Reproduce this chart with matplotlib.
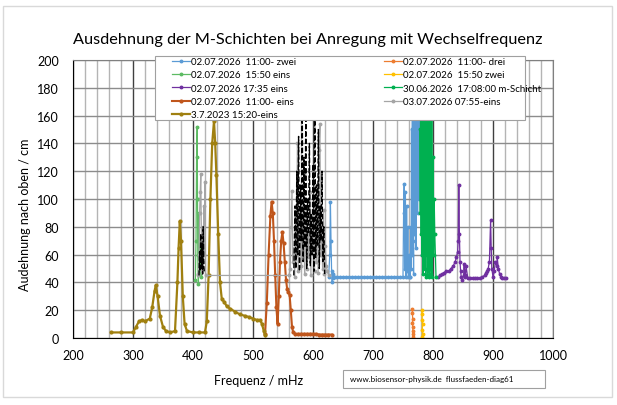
import numpy as np
import matplotlib
matplotlib.use("Agg")
import matplotlib.pyplot as plt
from matplotlib.ticker import MultipleLocator
from matplotlib.patches import Rectangle

plt.rcParams['font.family'] = ['Lato', 'DejaVu Sans']

# --- data (frequency in mHz, height in cm) ---
olive_f = [264, 280, 300, 305, 310, 315, 320, 328, 332, 336, 338, 341, 345, 350, 355, 362, 370, 374, 376, 378,
           380, 383, 386, 390, 400, 410, 420, 423, 426, 429, 432, 435, 437, 439, 442, 445, 448, 452, 456, 462,
           470, 478, 486, 494, 500, 506, 512, 515, 518, 520]
olive_v = [4, 4, 4, 8, 12, 13, 12, 14, 22, 34, 38, 30, 16, 8, 5, 4, 5, 40, 65, 84,
           70, 30, 10, 5, 4, 4, 4, 12, 45, 100, 140, 156, 140, 117, 75, 40, 28, 26, 23, 21,
           19, 17, 16, 15, 14, 13, 13, 10, 5, 2]

brown_f = [520, 523, 526, 529, 531, 533, 535, 537, 539, 541, 543, 545, 547, 549, 551, 553, 555, 557, 559, 561,
           563, 565, 567, 570, 575, 580, 585, 590, 595, 600, 605, 610, 615, 620, 625, 631]
brown_v = [3, 25, 60, 88, 98, 90, 70, 45, 22, 10, 30, 55, 70, 76, 68, 55, 42, 35, 33, 31,
           20, 8, 4, 3, 3, 3, 3, 3, 3, 3, 3, 2.5, 2.5, 2.5, 2.5, 2.5]

lgreen_f = [404, 405, 406, 407, 407.5, 408, 409, 410, 411, 412, 413]
lgreen_v = [42, 70, 130, 152, 100, 60, 39, 90, 45, 70, 44]

gray_f = [408, 409, 410, 411, 412, 413, 414, 415, 416, 417, 418, 419, 420, 421,
          560, 562, 563.5, 565, 566.5, 568, 569.5, 571, 572.5, 574, 575.5, 577, 578.5, 580, 581.5,
          583, 584.5, 586, 587.5, 589, 590.5, 592, 593.5, 595, 596.5, 598, 599.5, 601, 602.5, 604,
          605.5, 607, 608.5, 610, 611.5, 613, 614.5, 616, 617.5, 619, 620.5, 622, 624, 626]
gray_v = [46, 45, 60, 90, 105, 118, 70, 48, 80, 55, 95, 60, 112, 45,
          45, 50, 80, 106, 55, 65, 44, 90, 60, 140, 48, 75, 100, 52, 85,
          62, 118, 46, 70, 95, 50, 78, 58, 105, 45, 88, 62, 72, 48, 98,
          55, 110, 47, 135, 154, 60, 80, 50, 92, 46, 66, 52, 48, 45]

black1_f = [410, 411, 412, 413, 414, 415, 416, 417, 418, 419]
black1_v = [45, 62, 48, 75, 50, 68, 46, 80, 52, 47]
black2_f = [568, 570, 571.5, 573, 574.5, 576, 577.5, 579, 580.5, 582, 583.5, 585, 586.5, 588, 589.5,
            591, 592.5, 594, 595.5, 597, 598.5, 600, 601.5, 603, 604.5, 606, 607.5, 609, 610.5, 612,
            613.5, 615, 616.5, 618, 619.5]
black2_v = [45, 95, 50, 120, 60, 145, 48, 110, 70, 172, 55, 130, 65, 160, 50,
            100, 75, 140, 52, 90, 60, 125, 48, 165, 58, 110, 66, 150, 50, 95,
            70, 120, 55, 80, 46]

blue_f = [626, 628, 629, 630, 631, 632, 633, 634, 636,
          640, 645, 650, 655, 660, 665, 670, 675, 680, 685, 690, 695, 700, 705, 710, 715, 720, 725, 730,
          735, 740, 745,
          750, 751, 752, 753, 754, 755, 756, 757, 758, 759, 760, 761,
          762, 762.8, 763.5, 764.2, 765, 765.6, 766.3, 767, 767.6, 768.3, 769, 769.6, 770.3, 771, 771.6,
          772.3, 773, 773.6, 774.3, 775, 775.6, 776.3, 777, 777.6, 778.3, 779, 779.6, 780.3, 781]
blue_v = [44, 60, 98, 70, 48, 40, 46, 43, 44,
          44, 44, 44, 44, 44, 44, 44, 44, 44, 44, 44, 44, 44, 44, 44, 44, 44, 44, 44,
          44, 44, 44,
          44, 90, 111, 50, 105, 44, 95, 48, 80, 44, 60, 44,
          44, 80, 50, 150, 60, 210, 70, 130, 46, 220, 75, 180, 110, 230, 65,
          200, 120, 225, 90, 210, 140, 230, 100, 215, 160, 220, 120, 190, 60]

dgreen_f = [778, 778.8, 779.5, 780.3, 781, 781.8, 782.5, 783.3, 784, 784.8, 785.5, 786.3, 787, 787.8, 788.5,
            789.3, 790, 790.8, 791.5, 792.3, 793, 793.8, 794.5, 795.3, 796, 797, 798, 799, 800, 801,
            802, 803, 805]
dgreen_v = [150, 90, 210, 75, 220, 60, 230, 46, 215, 75, 225, 50, 205, 44, 230,
            60, 210, 45, 220, 48, 200, 44, 180, 50, 160, 46, 200, 44, 130, 60,
            100, 75, 44]

purple_f = [809, 812, 815, 818, 822, 826, 830, 834, 837, 839, 841, 842, 843, 844, 845, 846, 847, 849, 851, 852,
            853, 854, 855, 858, 862, 866, 870, 874, 878, 882, 886, 888, 890, 892, 894, 896, 897, 898, 900, 902,
            904, 906, 907, 909, 911, 913, 915, 918, 921]
purple_v = [44, 45, 46, 47, 48, 48, 50, 52, 55, 58, 62, 70, 110, 75, 55, 48, 44, 42, 45, 53,
            44, 45, 52, 43, 43, 43, 43, 43, 43, 44, 45, 47, 48, 50, 55, 85, 65, 50, 44, 48,
            55, 52, 58, 50, 46, 44, 43, 43.5, 43.5]

orange_f = [765.5, 765.8, 766.0, 765.7, 766.2, 766.4, 766.1, 766.5]
orange_v = [21, 18, 14, 11, 8, 5, 3, 1]

yellow_f = [781.5, 782.3, 781.8, 782.6, 782.0, 782.8, 781.9]
yellow_v = [20, 17, 13, 10, 6, 3, 0.5]

labels = ['02.07.2026  11:00- zwei', '02.07.2026  15:50 eins', '02.07.2026 17:35 eins',
          '02.07.2026  11:00- eins', '3.7.2023 15:20-eins', '02.07.2026  11:00- drei',
          '02.07.2026  15:50 zwei', '30.06.2026  17:08:00 m-Schicht', '03.07.2026 07:55-eins']

# --- figure ---
W, H = 617, 406
fig = plt.figure(figsize=(W / 100, H / 100), dpi=100)
fig.patches.append(Rectangle((3 / W, 1 - 398 / H), 609 / W, 391 / H, transform=fig.transFigure,
                             fill=False, edgecolor='#d9d9d9', lw=1))
ax = fig.add_axes([73 / W, 1 - 339 / H, 480 / W, 278 / H])

kw = dict(marker='o', markersize=1.8, lw=0.9)
l_blue, = ax.plot(blue_f, blue_v, color='#5B9BD5', **kw)
l_lg, = ax.plot(lgreen_f, lgreen_v, color='#5DBB63', **kw)
l_pu, = ax.plot(purple_f, purple_v, color='#7030A0', **kw)
l_br, = ax.plot(brown_f, brown_v, color='#C0561C', marker='o', markersize=2, lw=1.5)
l_ol, = ax.plot(olive_f, olive_v, color='#A08010', marker='o', markersize=2, lw=1.6)
l_or, = ax.plot(orange_f, orange_v, color='#ED7D31', **kw)
l_ye, = ax.plot(yellow_f, yellow_v, color='#FFC000', **kw)
l_dg, = ax.plot(dgreen_f, dgreen_v, color='#00B050', **kw)
l_gr, = ax.plot(gray_f, gray_v, color='#A5A5A5', **kw)
ax.plot(black1_f, black1_v, color='black', ls='--', lw=1.0)
ax.plot(black2_f, black2_v, color='black', ls='--', lw=1.0)

ax.set_xlim(200, 1000)
ax.set_ylim(0, 200)
ax.xaxis.set_major_locator(MultipleLocator(100))
ax.xaxis.set_minor_locator(MultipleLocator(20))
ax.yaxis.set_major_locator(MultipleLocator(20))
ax.set_axisbelow(True)
ax.grid(which='major', axis='x', color='#404040', lw=1)
ax.grid(which='minor', axis='x', color='#b4b4b4', lw=1)
ax.grid(which='major', axis='y', color='#8c8c8c', lw=1)
ax.tick_params(which='both', length=0, labelsize=9)
ax.tick_params(axis='x', pad=8)
ax.tick_params(axis='y', pad=10)
for s in ax.spines.values():
    s.set_color('#808080')
ax.spines['left'].set_color('black')
ax.spines['bottom'].set_color('black')

fig.text(308 / W, 1 - 40 / H, 'Ausdehnung der M-Schichten bei Anregung mit Wechselfrequenz',
         ha='center', va='center', fontsize=11.7)
fig.text(259 / W, 1 - 381 / H, 'Frequenz / mHz', ha='center', va='center', fontsize=9)
fig.text(25 / W, 1 - 215 / H, 'Audehnung nach oben / cm', ha='center', va='center',
         rotation=90, fontsize=9)

# watermark box
fig.patches.append(Rectangle((343 / W, 1 - 389 / H), 202 / W, 18 / H, transform=fig.transFigure,
                             facecolor='white', edgecolor='#a0a0a0', lw=0.8))
fig.text(350 / W, 1 - 380 / H, 'www.biosensor-physik.de  flussfaeden-diag61',
         ha='left', va='center', fontsize=5.8)

# legend: white box on top of the data, entries without own frame
fig.patches.append(Rectangle((155 / W, 1 - 121 / H), 370 / W, 64 / H, transform=fig.transFigure,
                             facecolor='white', edgecolor='#a0a0a0', lw=0.8))
handles = [l_blue, l_lg, l_pu, l_br, l_ol, l_or, l_ye, l_dg, l_gr]
leg = fig.legend(handles, labels, ncol=2, loc='upper left',
                 bbox_to_anchor=(170 / W, 1 - 56 / H), fontsize=7, frameon=False,
                 borderaxespad=0, borderpad=0.2, handlelength=1.85, handletextpad=0.15,
                 columnspacing=9.0, labelspacing=0.45)

fig.savefig('out.png', dpi=100)
